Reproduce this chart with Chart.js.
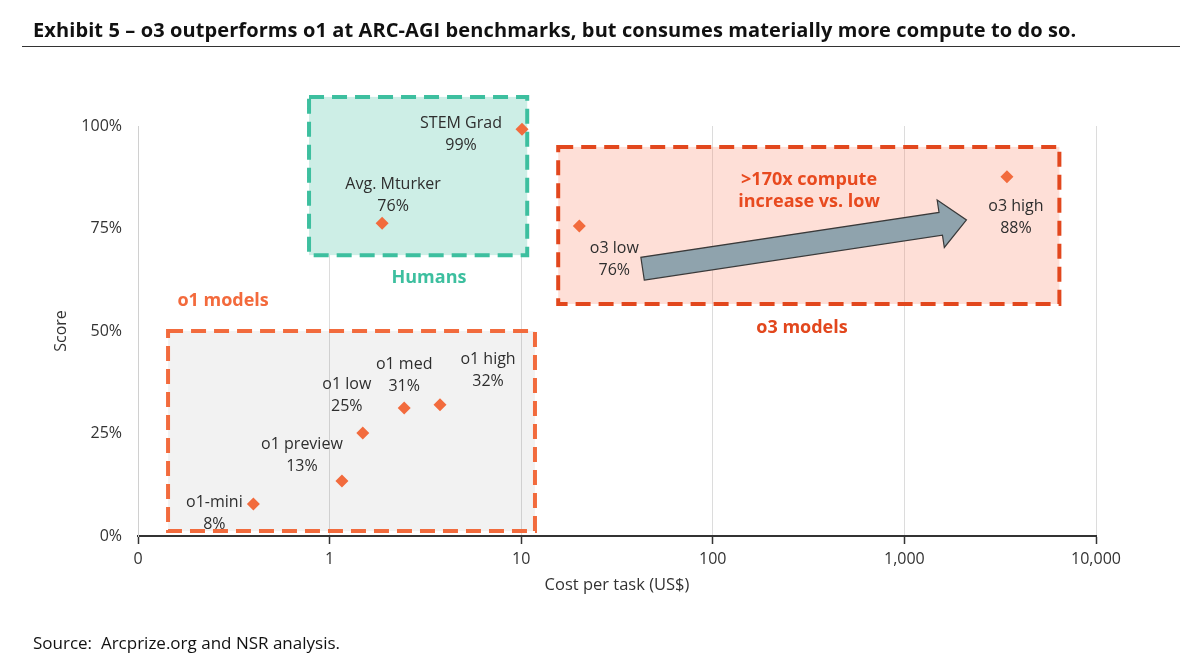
<!DOCTYPE html>
<html>
<head>
<meta charset="utf-8">
<script src="https://cdn.jsdelivr.net/npm/chart.js@4.4.1/dist/chart.umd.min.js"></script>
<style>
  html, body { margin: 0; padding: 0; background: #ffffff; }
  #wrap { position: relative; width: 1200px; height: 668px; overflow: hidden; background: #fff; }
  #c { position: absolute; left: 0; top: 0; }
  #title { position: absolute; left: 33px; top: 16px; font-family: "Open Sans", sans-serif; font-weight: 700; font-size: 20px; color: #111; white-space: nowrap; letter-spacing: 0.1px; }
  #rule { position: absolute; left: 22px; top: 46px; width: 1158px; height: 0; border-top: 1.5px solid #333; }
  #source { position: absolute; left: 33px; top: 631px; font-family: "Open Sans", sans-serif; font-size: 17px; color: #111; white-space: pre; }
</style>
</head>
<body>
<div id="wrap">
  <canvas id="c" width="1200" height="668"></canvas>
  <div id="title">Exhibit 5 – o3 outperforms o1 at ARC-AGI benchmarks, but consumes materially more compute to do so.</div>
  <div id="rule"></div>
  <div id="source">Source:  Arcprize.org and NSR analysis.</div>
</div>
<script>
// ---------- data ----------
const pointNames  = ["o1-mini", "o1 preview", "o1 low", "o1 med", "o1 high", "Avg. Mturker", "STEM Grad", "o3 low", "o3 high"];
const costs       = [0.40, 1.16, 1.49, 2.45, 3.77, 1.88, 10.1, 20.1, 3430];
const scores      = [7.8, 13.4, 25.1, 31.2, 32.0, 76.3, 99.2, 75.6, 87.6];
const scoreLabels = ["8%", "13%", "25%", "31%", "32%", "76%", "99%", "76%", "88%"];

const xTickValues = [0.1, 1, 10, 100, 1000, 10000];
const xTickLabels = ["0", "1", "10", "100", "1,000", "10,000"];
const yTickValues = [0, 25, 50, 75, 100];
const yTickLabels = ["0%", "25%", "50%", "75%", "100%"];

// grouping boxes (data units: cost range, score range)
const groupNames = ["o1 models", "Humans", "o3 models"];
const groupCostFrom = [0.1435, 0.781, 15.6];
const groupCostTo   = [11.8, 10.75, 6440];
const groupScoreTop = [50.0, 107.1, 94.9];
const groupScoreBot = [1.2, 68.5, 56.6];
const groupLabelCost  = [0.278, 3.3, 292];
const groupLabelScore = [57.3, 62.9, 50.7];

// arrow o3 low -> o3 high
const arrowFrom = [43, 65.2];
const arrowTo   = [2108, 77.1];
const arrowText = [">170x compute", "increase vs. low"];
const arrowTextAt = [318, 86.8];

// ---------- styles ----------
const FONT = '"Open Sans", Lato, sans-serif';
const markerColor = "#f26b3d";
const labelOffsets = [[-39,-2],[-40,-37],[-16,-49],[0,-44],[48,-45],[11,-39],[-61,-6],[35,22],[9,30]];
const groupStyles = [
  { fill: "rgba(0,0,0,0.05)", stroke: "#f26b3d", text: "#f36a3c" },
  { fill: "#cdeee6", stroke: "#3dbf9f", text: "#3dbf9f" },
  { fill: "rgba(250,140,112,0.28)", stroke: "#e2471d", text: "#e2471d" }
];

const annot = {
  id: "annot",
  beforeDatasetsDraw(chart) {
    const ctx = chart.ctx, xs = chart.scales.x, ys = chart.scales.y;
    ctx.save();
    for (let i = 0; i < groupNames.length; i++) {
      const x1 = xs.getPixelForValue(groupCostFrom[i]), x2 = xs.getPixelForValue(groupCostTo[i]);
      const y1 = ys.getPixelForValue(groupScoreTop[i]), y2 = ys.getPixelForValue(groupScoreBot[i]);
      ctx.fillStyle = groupStyles[i].fill;
      ctx.fillRect(x1, y1, x2 - x1, y2 - y1);
      ctx.setLineDash([15, 8]);
      ctx.lineWidth = 4;
      ctx.strokeStyle = groupStyles[i].stroke;
      ctx.strokeRect(x1, y1, x2 - x1, y2 - y1);
    }
    ctx.setLineDash([]);
    // arrow
    const ax = xs.getPixelForValue(arrowFrom[0]), ay = ys.getPixelForValue(arrowFrom[1]);
    const bx = xs.getPixelForValue(arrowTo[0]), by = ys.getPixelForValue(arrowTo[1]);
    const dx = bx - ax, dy = by - ay, L = Math.hypot(dx, dy);
    const ux = dx / L, uy = dy / L, nx = -uy, ny = ux;
    const sw = 11.5, hw = 24, hl = 26;
    const hx = bx - ux * hl, hy = by - uy * hl;
    ctx.beginPath();
    ctx.moveTo(ax + nx * sw, ay + ny * sw);
    ctx.lineTo(hx + nx * sw, hy + ny * sw);
    ctx.lineTo(hx + nx * hw, hy + ny * hw);
    ctx.lineTo(bx, by);
    ctx.lineTo(hx - nx * hw, hy - ny * hw);
    ctx.lineTo(hx - nx * sw, hy - ny * sw);
    ctx.lineTo(ax - nx * sw, ay - ny * sw);
    ctx.closePath();
    ctx.fillStyle = "#8fa3ad";
    ctx.fill();
    ctx.lineWidth = 1.2;
    ctx.strokeStyle = "#3a3a3a";
    ctx.stroke();
    ctx.restore();
  },
  afterDatasetsDraw(chart) {
    const ctx = chart.ctx, xs = chart.scales.x, ys = chart.scales.y;
    ctx.save();
    ctx.textAlign = "center";
    ctx.textBaseline = "middle";
    ctx.font = "16px " + FONT;
    ctx.fillStyle = "#2e2e2e";
    for (let i = 0; i < pointNames.length; i++) {
      const px = xs.getPixelForValue(costs[i]), py = ys.getPixelForValue(scores[i]);
      const [ox, oy] = labelOffsets[i];
      ctx.fillText(pointNames[i], px + ox, py + oy);
      ctx.fillText(scoreLabels[i], px + ox, py + oy + 22);
    }
    ctx.font = "bold 18px " + FONT;
    for (let i = 0; i < groupNames.length; i++) {
      ctx.fillStyle = groupStyles[i].text;
      ctx.fillText(groupNames[i], xs.getPixelForValue(groupLabelCost[i]), ys.getPixelForValue(groupLabelScore[i]));
    }
    ctx.fillStyle = "#e84a1f";
    const tx = xs.getPixelForValue(arrowTextAt[0]), ty = ys.getPixelForValue(arrowTextAt[1]);
    ctx.fillText(arrowText[0], tx, ty);
    ctx.fillText(arrowText[1], tx, ty + 22);
    ctx.restore();
  }
};

new Chart(document.getElementById("c"), {
  type: "scatter",
  data: {
    datasets: [{
      data: costs.map((c, i) => ({ x: c, y: scores[i] })),
      pointStyle: "rectRot",
      pointRadius: 6.5,
      pointHoverRadius: 6.5,
      backgroundColor: markerColor,
      borderWidth: 0,
      clip: false
    }]
  },
  options: {
    responsive: false,
    animation: false,
    events: [],
    layout: { padding: { left: 40, right: 104, top: 126, bottom: 70 } },
    plugins: { legend: { display: false }, tooltip: { enabled: false } },
    scales: {
      x: {
        type: "logarithmic",
        min: xTickValues[0],
        max: xTickValues[xTickValues.length - 1],
        afterBuildTicks(scale) { scale.ticks = xTickValues.map(v => ({ value: v })); },
        afterFit(scale) { scale.height = 62; },
        ticks: {
          autoSkip: false, maxRotation: 0,
          padding: 6,
          color: "#333", font: { family: FONT, size: 16 },
          callback(v) { const k = xTickValues.indexOf(v); return k >= 0 ? xTickLabels[k] : ""; }
        },
        grid: { color: "#dcdcdc", lineWidth: 1, drawTicks: true, tickLength: 8, tickColor: "#333", tickWidth: 1.5 },
        border: { color: "#333", width: 2 },
        title: { display: true, text: "Cost per task (US$)", color: "#333", font: { family: FONT, size: 16.5 }, padding: { top: 4, bottom: 3 } }
      },
      y: {
        min: 0, max: 100,
        afterBuildTicks(scale) { scale.ticks = yTickValues.map(v => ({ value: v })); },
        afterFit(scale) { scale.width = 98; },
        ticks: {
          padding: 16,
          color: "#333", font: { family: FONT, size: 16 },
          callback(v) { const k = yTickValues.indexOf(v); return k >= 0 ? yTickLabels[k] : ""; }
        },
        grid: { drawOnChartArea: false, drawTicks: false },
        border: { color: "#d0d0d0", width: 1 },
        title: { display: true, text: "Score", color: "#333", font: { family: FONT, size: 16 }, padding: { top: 12, bottom: 0 } }
      }
    }
  },
  plugins: [annot]
});
</script>
</body>
</html>
